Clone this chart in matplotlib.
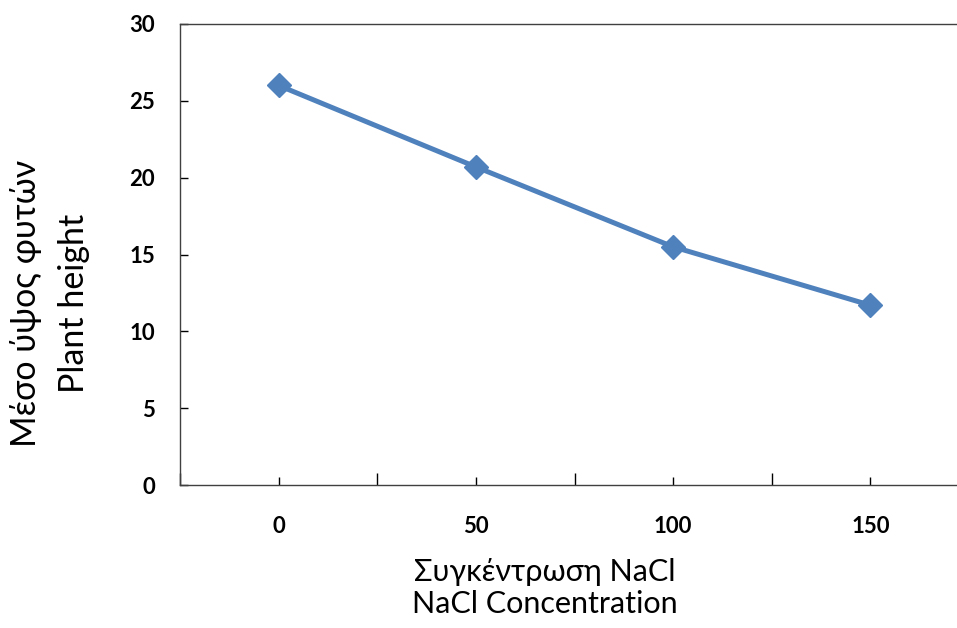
import numpy as np
import matplotlib.pyplot as plt

categories = ['0', '50', '100', '150']
heights = [26.0, 20.7, 15.5, 11.7]
yticks = [0, 5, 10, 15, 20, 25, 30]

plt.rcParams['font.family'] = ['Lato', 'DejaVu Sans']

fig = plt.figure(figsize=(9.57, 6.28), dpi=100)
# axes runs a little past the right edge, like the original
ax = fig.add_axes([180/957, 1 - 485/628, (969 - 180)/957, (485 - 24)/628])

x = np.arange(len(categories))
ax.plot(x, heights, color='#4F81BD', lw=3.6, marker='D', ms=12.5,
        markeredgecolor='#4F81BD', markeredgewidth=1, clip_on=False)

ax.set_xlim(-0.5, len(categories) - 0.5)
ax.set_ylim(0, 30)
ax.set_yticks(yticks)
ax.set_yticklabels([str(v) for v in yticks], fontsize=16, fontweight='bold')
ax.set_xticks(x)
ax.set_xticklabels(categories, fontsize=16, fontweight='bold')
ax.set_xticks(np.arange(-0.5, len(categories)), minor=True)

ax.tick_params(axis='y', direction='in', length=6, width=1, pad=18)
ax.tick_params(axis='x', which='major', direction='in', length=6, width=1, pad=22)
ax.tick_params(axis='x', which='minor', direction='in', length=9, width=1)

for s in ['left', 'bottom', 'top']:
    ax.spines[s].set_color('#404040')
    ax.spines[s].set_linewidth(1)
ax.spines['right'].set_visible(False)

fig.text(545/957, 1 - 588/628, 'Συγκέντρωση NaCl\nNaCl Concentration',
         fontsize=22, ha='center', va='center', linespacing=1.2)
fig.text(50/957, 1 - 303/628, 'Μέσο ύψος φυτών\nPlant height',
         fontsize=24.5, ha='center', va='center', rotation=90, linespacing=1.6)

fig.savefig('out.png', dpi=100)
